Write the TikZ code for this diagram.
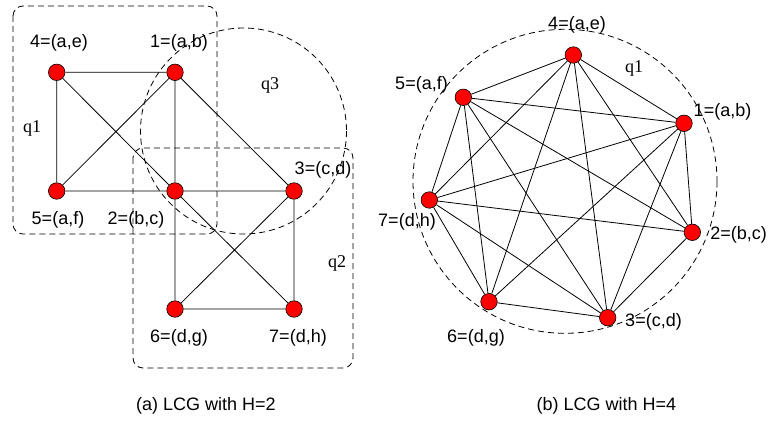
\documentclass[tikz,border=0pt]{standalone}
\usepackage{fontspec}
\setmainfont{Liberation Sans}
\newfontfamily\qfont{Liberation Serif}
\usepackage{tikz}
\usetikzlibrary{positioning}

\begin{document}
\begin{tikzpicture}[
  x=1pt,y=-1pt,
  font=\fontsize{18}{20}\selectfont,
  vx/.style={circle,draw=black,line width=0.6pt,fill=red,minimum size=16.5pt,inner sep=0pt},
  lk/.style={black,line width=0.8pt},
  grp/.style={dash pattern=on 6pt off 4pt,line width=0.8pt},
  lab/.style={inner sep=0pt},
  ql/.style={inner sep=0pt,font=\qfont\fontsize{18}{20}\selectfont}]

\useasboundingbox (0,0) rectangle (770,428);

% ================= (a) LCG with H=2 =================
\draw[grp,rounded corners=10pt] (13,6) rectangle (217,234);
\draw[grp,rounded corners=10pt] (133,148) rectangle (353,368);
\draw[grp] (243.5,131) circle[radius=103];
\node[ql](qa1) at (32,128){q1};
\node[ql](qa3) at (270,85){q3};
\node[ql](qa2) at (337,263){q2};

\node[vx](a4) at (56.7,72.3){}; \node[vx](a1) at (175,72.3){};
\node[vx](a5) at (56.7,191){};  \node[vx](a2) at (175,191){};
\node[vx](a3) at (294,191){};
\node[vx](a6) at (175,309){};   \node[vx](a7) at (294,309){};
% q1 clique
\draw[lk] (a4)--(a1) (a4)--(a5) (a4)--(a2) (a1)--(a5) (a1)--(a2) (a5)--(a2);
% q2 clique
\draw[lk] (a2)--(a3) (a2)--(a6) (a2)--(a7) (a3)--(a6) (a3)--(a7) (a6)--(a7);
% q3
\draw[lk] (a1)--(a3);

\node[lab] at (59,43){4=(a,e)};
\node[lab] at (179,43){1=(a,b)};
\node[lab] at (58,220){5=(a,f)};
\node[lab] at (136,220){2=(b,c)};
\node[lab] at (323,170){3=(c,d)};
\node[lab] at (179,338){6=(d,g)};
\node[lab] at (298,338){7=(d,h)};

% ================= (b) LCG with H=4 =================
\draw[grp] (565,181.3) circle[radius=152];
\node[ql](qb1) at (634,68){q1};

\node[vx](b4) at (573.3,55){};
\node[vx](b5) at (463.3,97.3){};
\node[vx](b1) at (684,123.3){};
\node[vx](b7) at (429.3,200){};
\node[vx](b2) at (692.3,232.3){};
\node[vx](b6) at (489,301.7){};
\node[vx](b3) at (607.7,317.7){};
\draw[lk] (b4)--(b5) (b4)--(b1) (b4)--(b7) (b4)--(b2) (b4)--(b6) (b4)--(b3);
\draw[lk] (b5)--(b1) (b5)--(b7) (b5)--(b2) (b5)--(b6) (b5)--(b3);
\draw[lk] (b1)--(b7) (b1)--(b2) (b1)--(b6) (b1)--(b3);
\draw[lk] (b7)--(b2) (b7)--(b6) (b7)--(b3);
\draw[lk] (b2)--(b3) (b6)--(b3);

\node[lab] at (577,25){4=(a,e)};
\node[lab] at (421.5,85){5=(a,f)};
\node[lab] at (722.5,111.7){1=(a,b)};
\node[lab] at (407,221.7){7=(d,h)};
\node[lab] at (738.5,235){2=(b,c)};
\node[lab] at (476,338){6=(d,g)};
\node[lab] at (653.5,321.7){3=(c,d)};

% captions
\node[lab](capa) at (206,406){(a) LCG with H=2};
\node[lab](capb) at (606.5,406){(b) LCG with H=4};
\end{tikzpicture}
\end{document}
